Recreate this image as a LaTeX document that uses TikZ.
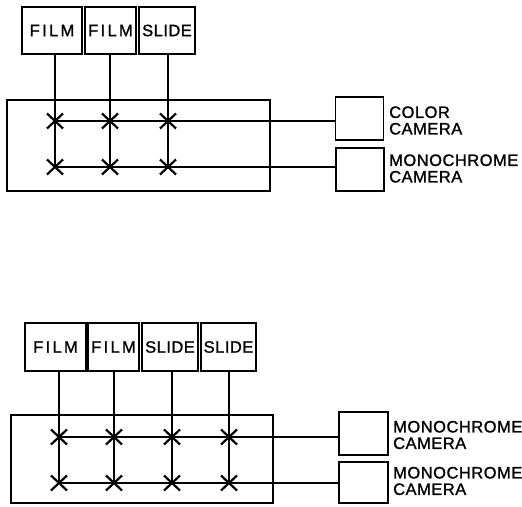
\documentclass[tikz,border=0pt]{standalone}
\usepackage{fontspec}
\setmainfont{Liberation Sans}[LetterSpace=3,FakeBold=1.2]
\newfontfamily\widefont{Liberation Sans}[LetterSpace=14,FakeBold=1.2]
\usetikzlibrary{calc}
\begin{document}
\begin{tikzpicture}[x=1pt,y=-1pt,
  srcbox/.style={draw,line width=1.7pt,inner sep=0pt,minimum height=47pt,font=\fontsize{16.5}{16.5}\selectfont},
  frame/.style={draw,line width=1.5pt,inner sep=0pt},
  cambox/.style={draw,line width=1.7pt,inner sep=0pt,minimum width=48pt},
  lbl/.style={anchor=west,align=left,inner sep=0pt,font=\fontsize{16.5}{16.5}\selectfont},
  wire/.style={line width=1.2pt},
  xmark/.style={line width=2.2pt}]
\useasboundingbox (0,0) rectangle (522,506);
\newcommand{\xm}[1]{\draw[xmark] ($(#1)+(-8,-7.5)$) -- ($(#1)+(8,7.5)$) ($(#1)+(-8,7.5)$) -- ($(#1)+(8,-7.5)$);}
% ---------- top diagram ----------
\node[srcbox,minimum width=60pt] (f1) at (52,30.5) {\widefont FILM};
\node[srcbox,minimum width=51pt] (f2) at (110.5,30.5) {\widefont FILM};
\node[srcbox,minimum width=56pt] (f3) at (167,30.5) {SLIDE};
\node[frame,minimum width=263pt,minimum height=91pt] (sw1) at (138.5,145.5) {};
\node[cambox,minimum height=43pt] (cam1) at (359.5,118.5) {};
\node[cambox,minimum height=43pt] (cam2) at (360,169.5) {};
\node[lbl] (l1) at (389,120.5) {COLOR\\CAMERA};
\node[lbl] (l2) at (389,168.5) {MONOCHROME\\CAMERA};
\coordinate (a11) at (55,121); \coordinate (a12) at (110,121); \coordinate (a13) at (168,121);
\coordinate (a21) at (55,167); \coordinate (a22) at (110,167); \coordinate (a23) at (168,167);
\draw[wire] (f1.south -| a11) -- (a21);
\draw[wire] (f2.south -| a12) -- (a22);
\draw[wire] (f3.south -| a13) -- (a23);
\draw[wire] (a11) -- (a11 -| cam1.west);
\draw[wire] (a21) -- (a21 -| cam2.west);
\xm{a11}\xm{a12}\xm{a13}\xm{a21}\xm{a22}\xm{a23}
% ---------- bottom diagram ----------
\node[srcbox,minimum width=61pt,minimum height=48pt] (g1) at (55.5,347) {\widefont FILM};
\node[srcbox,minimum width=51pt,minimum height=48pt] (g2) at (113.5,347) {\widefont FILM};
\node[srcbox,minimum width=56pt,minimum height=48pt] (g3) at (170,347) {SLIDE};
\node[srcbox,minimum width=55pt,minimum height=48pt] (g4) at (228.5,347) {SLIDE};
\node[frame,minimum width=262pt,minimum height=88pt] (sw2) at (142,459) {};
\node[cambox,minimum width=49pt,minimum height=43pt] (cam3) at (363.5,433.5) {};
\node[cambox,minimum width=49pt,minimum height=41pt] (cam4) at (363.5,482.5) {};
\node[lbl] (l3) at (393,435) {MONOCHROME\\CAMERA};
\node[lbl] (l4) at (393,481) {MONOCHROME\\CAMERA};
\coordinate (b11) at (59,437); \coordinate (b12) at (114,437); \coordinate (b13) at (172,437); \coordinate (b14) at (229,437);
\coordinate (b21) at (59,483); \coordinate (b22) at (114,483); \coordinate (b23) at (172,483); \coordinate (b24) at (229,483);
\draw[wire] (g1.south -| b11) -- (b21);
\draw[wire] (g2.south -| b12) -- (b22);
\draw[wire] (g3.south -| b13) -- (b23);
\draw[wire] (g4.south -| b14) -- (b24);
\draw[wire] (b11) -- (b11 -| cam3.west);
\draw[wire] (b21) -- (b21 -| cam4.west);
\xm{b11}\xm{b12}\xm{b13}\xm{b14}\xm{b21}\xm{b22}\xm{b23}\xm{b24}
\end{tikzpicture}
\end{document}
